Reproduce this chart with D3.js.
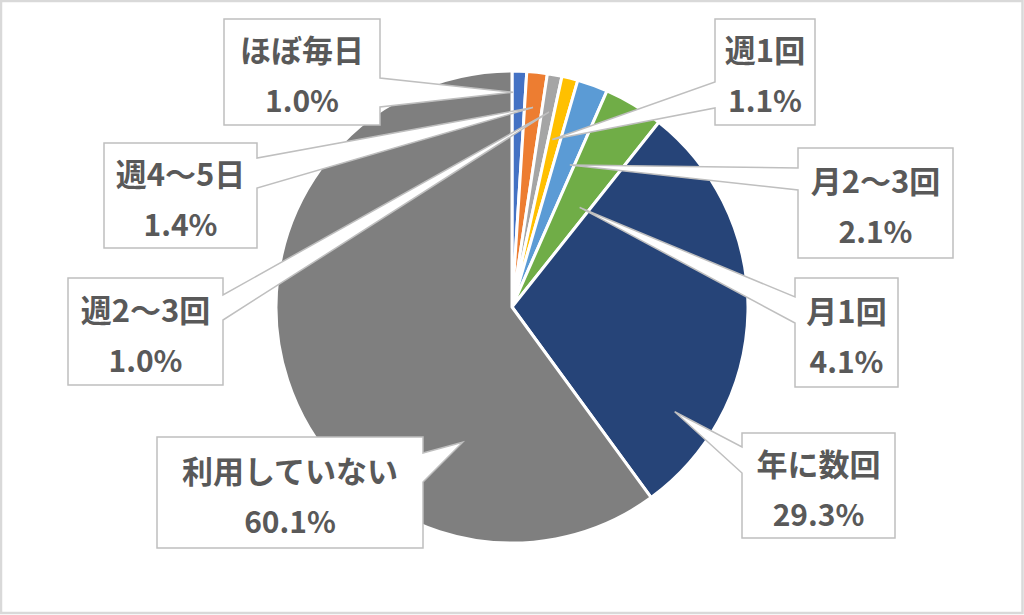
<!DOCTYPE html>
<html>
<head>
<meta charset="utf-8">
<script src="https://cdn.jsdelivr.net/npm/d3@7"></script>
<style>
  body { margin: 0; background: #fff; }
  svg { display: block; }
</style>
</head>
<body>
<div id="chart"></div>
<script>
// data
const categories = ["ほぼ毎日", "週4～5日", "週2～3回", "週1回", "月2～3回", "月1回", "年に数回", "利用していない"];
const values = [1.0, 1.4, 1.0, 1.1, 2.1, 4.1, 29.3, 60.1];
const valueLabels = ["1.0%", "1.4%", "1.0%", "1.1%", "2.1%", "4.1%", "29.3%", "60.1%"];
const colors = ["#4472c4", "#ed7d31", "#a5a5a5", "#ffc000", "#5b9bd5", "#70ad47", "#264478", "#7f7f7f"];

// callout layout: box, side of the pointer, pointer base (y on that side), tip (fraction of slice angle, fraction of radius)
const callouts = [
  {x: 224, y: 19,  w: 156, h: 106, side: "right", b: [78, 107],  t: 0.08, r: 0.91},
  {x: 104, y: 143, w: 153, h: 105, side: "right", b: [158, 188], t: 0.48, r: 0.85},
  {x: 68,  y: 278, w: 155, h: 107, side: "right", b: [295, 320], t: 0.58, r: 0.84},
  {x: 715, y: 19,  w: 100, h: 106, side: "left",  b: [82, 108],  t: 0.33, r: 0.73},
  {x: 798, y: 148, w: 155, h: 110, side: "left",  b: [168, 190], t: 0.79, r: 0.65},
  {x: 795, y: 278, w: 103, h: 109, side: "left",  b: [297, 323], t: 0.71, r: 0.51},
  {x: 742, y: 433, w: 153, h: 105, side: "left",  b: [447, 473], t: 0.80, r: 0.82},
  {x: 157, y: 437, w: 266, h: 111, side: "right", b: [453, 482], t: 0.26, r: 0.61}
];

const width = 1024, height = 615;
const cx = 512, cy = 307, radius = 236;

const svg = d3.select("#chart").append("svg")
    .attr("width", width)
    .attr("height", height);

svg.append("rect")
    .attr("x", 1).attr("y", 1)
    .attr("width", width - 2.5).attr("height", height - 3)
    .attr("fill", "#fff")
    .attr("stroke", "#d9d9d9")
    .attr("stroke-width", 2.5);

const pie = d3.pie().sort(null).value(d => d);
const arcs = pie(values);
const arc = d3.arc().innerRadius(0).outerRadius(radius);

const g = svg.append("g").attr("transform", "translate(" + cx + "," + cy + ")");

g.selectAll("path.slice")
  .data(arcs)
  .join("path")
    .attr("class", "slice")
    .attr("d", arc)
    .attr("fill", (d, i) => colors[i])
    .attr("stroke", "#fff")
    .attr("stroke-width", 3)
    .attr("stroke-linejoin", "round");

// callout shape: rectangle with a wedge coming out of one side
function calloutPath(c, tip) {
  const x0 = c.x, y0 = c.y, x1 = c.x + c.w, y1 = c.y + c.h;
  let pts;
  if (c.side == "right") {
    pts = [[x0, y0], [x1, y0], [x1, c.b[0]], tip, [x1, c.b[1]], [x1, y1], [x0, y1]];
  } else {
    pts = [[x0, y0], [x1, y0], [x1, y1], [x0, y1], [x0, c.b[1]], tip, [x0, c.b[0]]];
  }
  return "M" + pts.map(p => p[0] + "," + p[1]).join("L") + "Z";
}

const fontFamily = "'Noto Sans CJK JP', 'Noto Sans', sans-serif";

callouts.forEach(function(c, i) {
  const a = arcs[i];
  const ang = a.startAngle + c.t * (a.endAngle - a.startAngle);
  const tip = [cx + Math.sin(ang) * radius * c.r, cy - Math.cos(ang) * radius * c.r];

  svg.append("path")
      .attr("d", calloutPath(c, tip))
      .attr("fill", "#fff")
      .attr("stroke", "#bfbfbf")
      .attr("stroke-width", 1.5)
      .attr("stroke-linejoin", "miter");

  const tx = c.x + c.w / 2;
  const mid = c.y + c.h / 2 + 4;

  svg.append("text")
      .attr("x", tx).attr("y", mid - 25 + 11)
      .attr("text-anchor", "middle")
      .attr("font-family", fontFamily)
      .attr("font-weight", "bold")
      .attr("font-size", 31)
      .attr("fill", "#595959")
      .text(categories[i]);

  svg.append("text")
      .attr("x", tx).attr("y", mid + 26 + 10)
      .attr("text-anchor", "middle")
      .attr("font-family", fontFamily)
      .attr("font-weight", "bold")
      .attr("font-size", 30)
      .attr("fill", "#595959")
      .text(valueLabels[i]);
});
</script>
</body>
</html>
